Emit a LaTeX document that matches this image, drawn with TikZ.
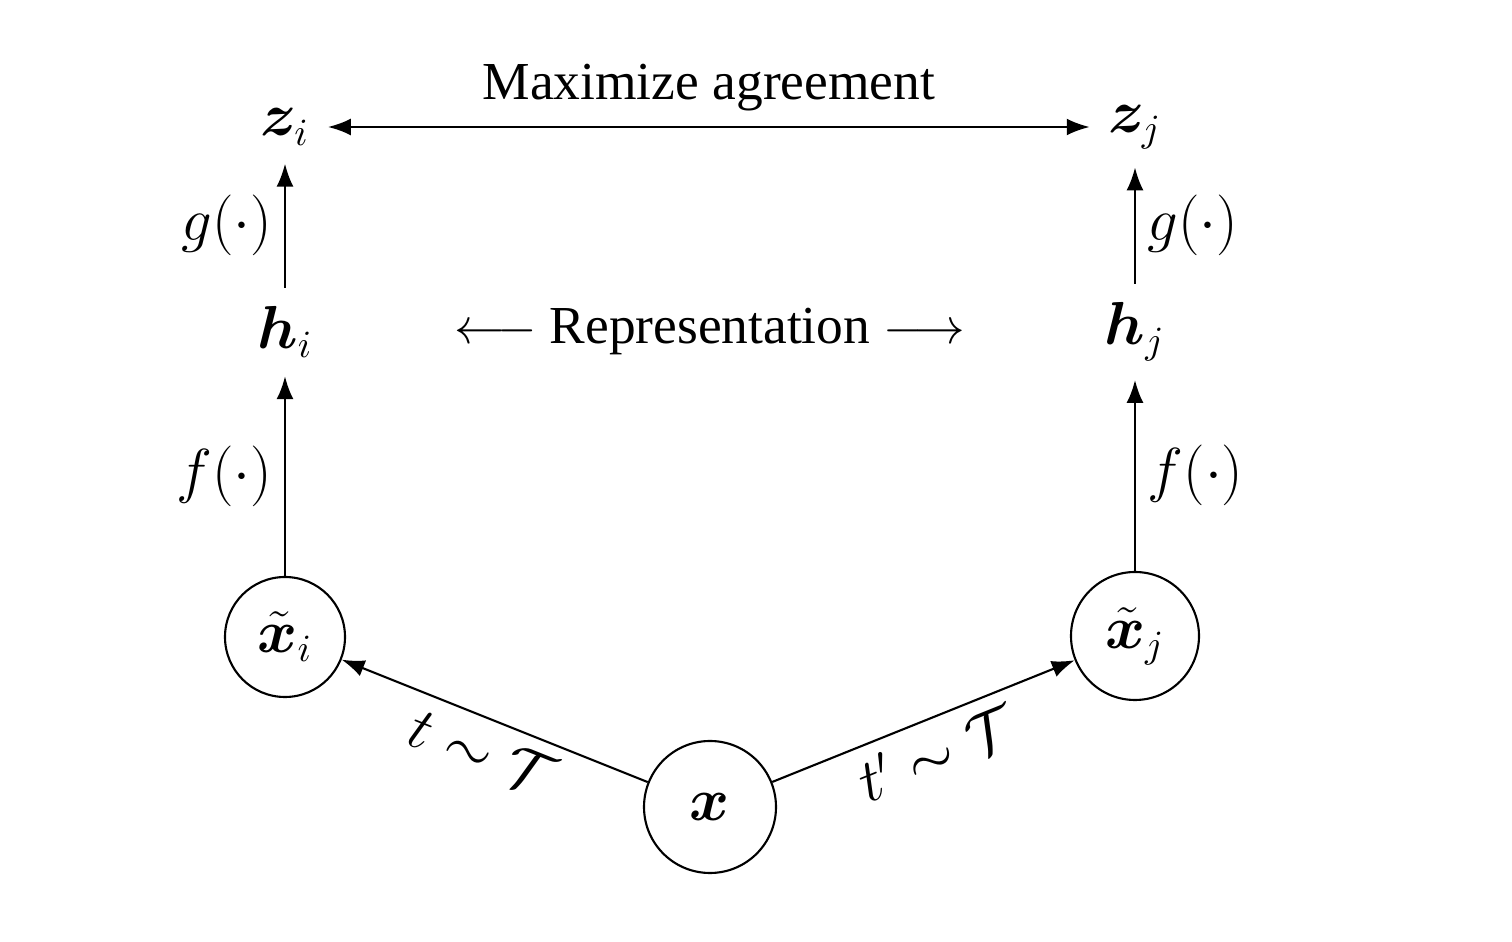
\documentclass[tikz,border=0pt]{standalone}
\usepackage{amsmath}
\usepackage{bm}
\usepackage{fontspec}
\setmainfont{Liberation Serif}
\usetikzlibrary{arrows.meta, calc}

\begin{document}
\begin{tikzpicture}[font=\fontsize{15.2}{18}\selectfont, semithick,
    >={Latex[length=6.5pt,width=4.8pt]},
    mlabel/.style={font=\fontsize{16.2}{19}\selectfont},
    vecnode/.style={mlabel, inner sep=5pt},
    sample/.style={mlabel, circle, draw, inner sep=0pt}]
  \useasboundingbox (0,0) rectangle (15.12,-9.42);

  % outputs and representations
  \node[vecnode] (zi) at (2.85,-1.27) {$\bm{z}_i$};
  \node[vecnode] (zj) at (11.35,-1.27) {$\bm{z}_j$};
  \node[vecnode] (hi) at (2.85,-3.32) {$\bm{h}_i$};
  \node[vecnode] (hj) at (11.35,-3.32) {$\bm{h}_j$};

  % augmented views and input
  \node[sample, minimum size=1.20cm] (xti) at (2.85,-6.37) {$\bm{\tilde{x}}_i$};
  \node[sample, minimum size=1.28cm] (xtj) at (11.35,-6.36) {$\bm{\tilde{x}}_j$};
  \node[sample, minimum size=1.32cm] (x) at (7.10,-8.07) {$\bm{x}$};

  \node (rep) at ($(hi)!0.5!(hj)$) {$\longleftarrow$ Representation $\longrightarrow$};

  \draw[<->] (zi) -- node[above=1pt] {Maximize agreement} (zj);
  \draw[->] (hi) -- node[left, mlabel] {$g(\cdot)$} (zi);
  \draw[->] (hj) -- node[right, mlabel] {$g(\cdot)$} (zj);
  \draw[->] (xti) -- node[left, mlabel] {$f(\cdot)$} (hi);
  \draw[->] (xtj) -- node[right, mlabel] {$f(\cdot)$} (hj);
  \draw[->] (x) -- node[sloped, below, mlabel] {$t\sim\mathcal{T}$} (xti);
  \draw[->] (x) -- node[sloped, below, mlabel] {$t'\sim\mathcal{T}$} (xtj);
\end{tikzpicture}
\end{document}
